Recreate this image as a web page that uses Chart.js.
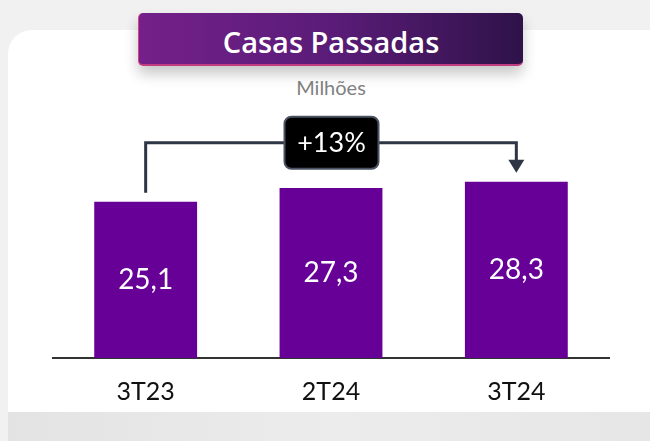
<!DOCTYPE html>
<html>
<head>
<meta charset="utf-8">
<script src="https://cdn.jsdelivr.net/npm/chart.js@4"></script>
<style>
  html, body { margin: 0; padding: 0; }
  body { width: 650px; height: 441px; position: relative; overflow: hidden; background: #f1f1f1; font-family: Lato, sans-serif; }
  .card { position: absolute; left: 8px; top: 30px; width: 680px; height: 382px; background: #fff; border-radius: 24px 24px 0 0; }
  .strip { position: absolute; left: 8px; top: 412px; width: 650px; height: 29px; background: linear-gradient(90deg, #e3e3e3, #ececec 50%, #e6e6e6); }
  .title { position: absolute; left: 138px; top: 13px; width: 384px; height: 51px; border-radius: 5px; overflow: hidden;
           background: linear-gradient(90deg, #74208a, #5a1c78 50%, #2f1249);
           border-left: 1px solid #d9437d; border-bottom: 2px solid #c23d80;
           box-shadow: 0 8px 14px rgba(0,0,0,0.22);
           color: #fff; font: 600 29px "Open Sans", sans-serif; text-align: center; line-height: 58px; }
  .sub { position: absolute; left: 0; width: 662px; top: 75px; text-align: center; color: #808080; font: 20px Lato, sans-serif; }
  canvas { position: absolute; left: 0; top: 0; }
</style>
</head>
<body>
<div class="card"></div>
<div class="strip"></div>
<div class="title">Casas Passadas</div>
<div class="sub">Milhões</div>
<canvas id="chart" width="650" height="441"></canvas>
<script>
// dados do gráfico
const categorias = ["3T23", "2T24", "3T24"];
const valores = [25.1, 27.3, 28.3];
const variacao = "+13%";

// rótulos de valor no meio das barras
const rotulosBarras = {
    id: "rotulosBarras",
    afterDatasetsDraw(chart) {
        const ctx = chart.ctx;
        const meta = chart.getDatasetMeta(0);
        ctx.save();
        ctx.fillStyle = "#ffffff";
        ctx.font = "28px Lato, sans-serif";
        ctx.textAlign = "center";
        ctx.textBaseline = "middle";
        meta.data.forEach((bar, i) => {
            const txt = valores[i].toFixed(1).replace(".", ",");
            ctx.fillText(txt, bar.x, (bar.y + bar.base) / 2);
        });
        ctx.restore();
    }
};

// seta de variação entre a primeira e a última barra
const setaVariacao = {
    id: "setaVariacao",
    afterDatasetsDraw(chart) {
        const ctx = chart.ctx;
        const meta = chart.getDatasetMeta(0);
        const first = meta.data[0];
        const last = meta.data[meta.data.length - 1];
        const topo = Math.min(...meta.data.map(b => b.y));
        const yLinha = topo - 39;
        ctx.save();
        ctx.strokeStyle = "#2e3544";
        ctx.lineWidth = 3;
        ctx.beginPath();
        ctx.moveTo(first.x, first.y - 9);
        ctx.lineTo(first.x, yLinha);
        ctx.lineTo(last.x, yLinha);
        ctx.lineTo(last.x, last.y - 20);
        ctx.stroke();
        ctx.fillStyle = "#2e3544";
        ctx.beginPath();
        ctx.moveTo(last.x - 8, last.y - 22);
        ctx.lineTo(last.x + 8, last.y - 22);
        ctx.lineTo(last.x, last.y - 9);
        ctx.closePath();
        ctx.fill();

        // caixa
        const cx = (meta.data[1].x);
        const w = 94, h = 52;
        const bx = cx - w / 2 + 0.5, by = yLinha - 26;
        ctx.beginPath();
        ctx.roundRect(bx, by, w, h, 7);
        ctx.fillStyle = "#000000";
        ctx.fill();
        ctx.lineWidth = 2;
        ctx.strokeStyle = "#4a5262";
        ctx.stroke();
        ctx.fillStyle = "#ffffff";
        ctx.font = "27px Lato, sans-serif";
        ctx.textAlign = "center";
        ctx.textBaseline = "middle";
        ctx.fillText(variacao, bx + w / 2, by + h / 2 + 1);
        ctx.restore();
    }
};

const ctx = document.getElementById("chart").getContext("2d");
new Chart(ctx, {
    type: "bar",
    data: {
        labels: categorias,
        datasets: [
            {
                label: "Casas Passadas",
                data: valores,
                backgroundColor: "#660096",
                borderWidth: 0,
                categoryPercentage: 1,
                barPercentage: 0.555,
            },
        ],
    },
    options: {
        responsive: false,
        animation: false,
        layout: { padding: { left: 53, right: 41, top: 140, bottom: 23 } },
        plugins: { legend: { display: false }, tooltip: { enabled: false } },
        scales: {
            x: {
                grid: { display: false },
                border: { display: true, color: "#333333", width: 2 },
                ticks: { color: "#111111", font: { size: 25, family: "Lato, sans-serif" }, padding: 11 },
            },
            y: {
                display: false,
                min: 0,
                max: 35,
            },
        },
    },
    plugins: [rotulosBarras, setaVariacao],
});
</script>
</body>
</html>
